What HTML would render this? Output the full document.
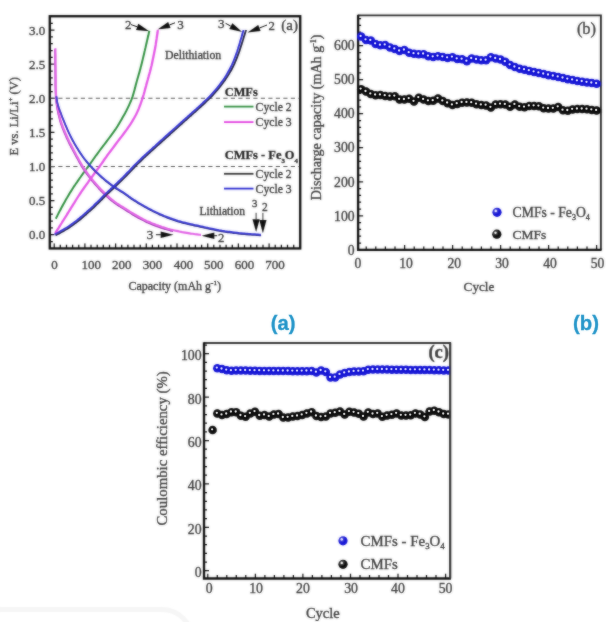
<!DOCTYPE html>
<html><head><meta charset="utf-8"><title>Figure</title>
<style>
html,body{margin:0;padding:0;background:#fff;}
body{width:613px;height:622px;overflow:hidden;position:relative;}
svg{position:absolute;left:0;top:0;display:block;}
svg text{stroke:#3c3c3c;stroke-width:0.35px;}
svg text.bl{stroke:#1e93c8;stroke-width:0.3px;}
</style></head><body>
<svg width="613" height="622" viewBox="0 0 613 622">
<rect width="613" height="622" fill="#fff"/>
<defs><filter id="soft" x="0" y="0" width="613" height="622" filterUnits="userSpaceOnUse"><feGaussianBlur in="SourceGraphic" stdDeviation="0.85" result="b"/><feComposite in="SourceGraphic" in2="b" operator="arithmetic" k1="0" k2="0.5" k3="0.5" k4="0"/></filter><filter id="soft2" x="0" y="0" width="613" height="622" filterUnits="userSpaceOnUse"><feGaussianBlur in="SourceGraphic" stdDeviation="0.8" result="b"/><feComposite in="SourceGraphic" in2="b" operator="arithmetic" k1="0" k2="0.75" k3="0.25" k4="0"/></filter></defs>
<g font-family="'Liberation Serif', 'DejaVu Serif', serif" font-size="12.5" fill="#3c3c3c" filter="url(#soft)">
<g id="pa">
<rect x="49.8" y="16.2" width="250.4" height="232.2" fill="none" stroke="#0c0c0c" stroke-width="2.3"/>
<path d="M49.8,241.5h3.0M49.8,234.7h4.6M49.8,227.9h3.0M49.8,221.1h3.0M49.8,214.2h3.0M49.8,207.4h3.0M49.8,200.6h4.6M49.8,193.8h3.0M49.8,187.0h3.0M49.8,180.1h3.0M49.8,173.3h3.0M49.8,166.5h4.6M49.8,159.7h3.0M49.8,152.9h3.0M49.8,146.0h3.0M49.8,139.2h3.0M49.8,132.4h4.6M49.8,125.6h3.0M49.8,118.8h3.0M49.8,111.9h3.0M49.8,105.1h3.0M49.8,98.3h4.6M49.8,91.5h3.0M49.8,84.7h3.0M49.8,77.8h3.0M49.8,71.0h3.0M49.8,64.2h4.6M49.8,57.4h3.0M49.8,50.6h3.0M49.8,43.7h3.0M49.8,36.9h3.0M49.8,30.1h4.6M49.8,23.3h3.0M54.2,248.4v-5.0M60.3,248.4v-3.6M66.5,248.4v-3.6M72.6,248.4v-3.6M78.8,248.4v-3.6M84.9,248.4v-5.0M91.0,248.4v-3.6M97.2,248.4v-3.6M103.3,248.4v-3.6M109.5,248.4v-3.6M115.6,248.4v-5.0M121.7,248.4v-3.6M127.9,248.4v-3.6M134.0,248.4v-3.6M140.2,248.4v-3.6M146.3,248.4v-5.0M152.4,248.4v-3.6M158.6,248.4v-3.6M164.7,248.4v-3.6M170.9,248.4v-3.6M177.0,248.4v-5.0M183.1,248.4v-3.6M189.3,248.4v-3.6M195.4,248.4v-3.6M201.6,248.4v-3.6M207.7,248.4v-5.0M213.8,248.4v-3.6M220.0,248.4v-3.6M226.1,248.4v-3.6M232.3,248.4v-3.6M238.4,248.4v-5.0M244.5,248.4v-3.6M250.7,248.4v-3.6M256.8,248.4v-3.6M263.0,248.4v-3.6M269.1,248.4v-5.0M275.2,248.4v-3.6M281.4,248.4v-3.6M287.5,248.4v-3.6M293.7,248.4v-3.6" stroke="#111" stroke-width="1.25" fill="none"/>
<line x1="50.8" y1="98.2" x2="299.2" y2="98.2" stroke="#555" stroke-width="1.15" stroke-dasharray="4.2,3.3"/>
<line x1="50.8" y1="166.5" x2="299.2" y2="166.5" stroke="#555" stroke-width="1.15" stroke-dasharray="4.2,3.3"/>
<path d="M55.8,218.7 C56.0,218.3 56.7,216.9 57.2,216.0 C57.6,215.1 58.1,214.2 58.5,213.3 C59.0,212.4 59.5,211.6 59.9,210.7 C60.4,209.8 60.9,208.9 61.3,208.0 C61.8,207.1 62.3,206.2 62.8,205.4 C63.2,204.5 63.7,203.6 64.2,202.7 C64.7,201.8 65.2,201.0 65.7,200.1 C66.2,199.2 66.7,198.3 67.2,197.5 C67.7,196.6 68.2,195.8 68.7,194.9 C69.2,194.0 69.8,193.2 70.3,192.3 C70.8,191.5 71.3,190.6 71.9,189.8 C72.4,188.9 73.0,188.1 73.5,187.2 C74.1,186.4 74.6,185.6 75.2,184.7 C75.7,183.9 76.3,183.1 76.9,182.3 C77.5,181.4 78.0,180.6 78.6,179.8 C79.2,179.0 79.8,178.2 80.4,177.3 C80.9,176.5 81.5,175.7 82.1,174.9 C82.7,174.1 83.3,173.3 83.9,172.4 C84.5,171.6 85.1,170.8 85.6,170.0 C86.2,169.2 86.8,168.4 87.4,167.6 C88.0,166.8 88.6,165.9 89.2,165.1 C89.8,164.3 90.4,163.5 91.0,162.7 C91.5,161.9 92.1,161.1 92.7,160.2 C93.3,159.4 93.9,158.6 94.4,157.8 C95.0,157.0 95.6,156.2 96.2,155.3 C96.8,154.5 97.4,153.7 98.0,152.9 C98.6,152.1 99.2,151.3 99.7,150.5 C100.3,149.7 100.9,148.9 101.5,148.1 C102.1,147.3 102.8,146.5 103.4,145.7 C104.0,144.9 104.6,144.1 105.2,143.3 C105.8,142.5 106.4,141.7 107.0,140.9 C107.6,140.1 108.2,139.3 108.8,138.5 C109.4,137.7 110.0,136.9 110.6,136.1 C111.2,135.3 111.8,134.5 112.4,133.7 C113.0,132.8 113.6,132.0 114.2,131.2 C114.8,130.4 115.3,129.6 115.9,128.7 C116.4,127.9 117.0,127.0 117.5,126.2 C118.0,125.3 118.5,124.5 119.1,123.6 C119.6,122.8 120.1,121.9 120.6,121.0 C121.1,120.2 121.6,119.3 122.1,118.4 C122.6,117.6 123.1,116.7 123.6,115.8 C124.1,114.9 124.6,114.1 125.1,113.2 C125.5,112.3 126.0,111.4 126.5,110.5 C126.9,109.6 127.4,108.7 127.8,107.8 C128.3,106.9 128.7,106.0 129.1,105.1 C129.5,104.2 129.9,103.3 130.3,102.4 C130.7,101.5 131.1,100.5 131.5,99.6 C131.8,98.7 132.2,97.7 132.5,96.8 C132.8,95.8 133.1,94.9 133.4,93.9 C133.7,93.0 133.9,92.0 134.2,91.0 C134.5,90.1 134.7,89.1 135.0,88.1 C135.2,87.1 135.5,86.2 135.7,85.2 C136.0,84.2 136.3,83.3 136.5,82.3 C136.8,81.3 137.1,80.4 137.3,79.4 C137.6,78.4 137.9,77.5 138.2,76.5 C138.5,75.5 138.7,74.6 139.0,73.6 C139.3,72.7 139.6,71.7 139.8,70.7 C140.1,69.8 140.4,68.8 140.6,67.8 C140.9,66.8 141.1,65.9 141.4,64.9 C141.6,63.9 141.9,63.0 142.1,62.0 C142.3,61.0 142.6,60.0 142.8,59.1 C143.0,58.1 143.3,57.1 143.5,56.1 C143.7,55.1 144.0,54.2 144.2,53.2 C144.4,52.2 144.6,51.2 144.9,50.3 C145.1,49.3 145.3,48.3 145.6,47.3 C145.8,46.3 146.0,45.4 146.2,44.4 C146.5,43.4 146.7,42.4 146.9,41.5 C147.1,40.5 147.4,39.5 147.6,38.5 C147.8,37.5 148.0,36.6 148.3,35.6 C148.5,34.6 148.8,33.5 148.9,32.7 C149.1,31.8 149.3,31.0 149.4,30.7" fill="none" stroke="#2f8f3f" stroke-width="2.0" stroke-linecap="butt" stroke-linejoin="round"/>
<path d="M55.1,49.3 C55.1,49.8 55.1,51.3 55.1,52.3 C55.1,53.3 55.1,54.3 55.2,55.3 C55.2,56.3 55.2,57.3 55.2,58.3 C55.2,59.3 55.2,60.3 55.2,61.3 C55.2,62.3 55.2,63.3 55.2,64.3 C55.2,65.3 55.3,66.3 55.3,67.3 C55.3,68.3 55.3,69.3 55.3,70.3 C55.3,71.3 55.3,72.3 55.3,73.3 C55.3,74.3 55.3,75.3 55.4,76.3 C55.4,77.4 55.4,78.4 55.4,79.4 C55.4,80.4 55.4,81.4 55.4,82.4 C55.4,83.4 55.4,84.4 55.4,85.4 C55.5,86.4 55.5,87.4 55.5,88.4 C55.5,89.4 55.5,90.4 55.6,91.4 C55.6,92.4 55.6,93.4 55.7,94.4 C55.7,95.4 55.8,96.4 55.8,97.4 C55.9,98.4 56.0,99.4 56.1,100.4 C56.2,101.4 56.3,102.4 56.5,103.3 C56.6,104.3 56.7,105.3 56.9,106.3 C57.1,107.3 57.2,108.3 57.4,109.3 C57.6,110.3 57.8,111.2 58.0,112.2 C58.2,113.2 58.4,114.2 58.6,115.1 C58.9,116.1 59.1,117.1 59.4,118.1 C59.6,119.0 59.9,120.0 60.1,121.0 C60.4,121.9 60.7,122.9 61.0,123.8 C61.3,124.8 61.7,125.7 62.0,126.7 C62.4,127.6 62.7,128.5 63.1,129.5 C63.5,130.4 63.8,131.3 64.2,132.2 C64.6,133.2 65.0,134.1 65.4,135.0 C65.8,135.9 66.2,136.8 66.6,137.8 C67.0,138.7 67.5,139.6 67.9,140.5 C68.3,141.4 68.8,142.3 69.2,143.2 C69.7,144.1 70.1,145.0 70.6,145.8 C71.0,146.7 71.5,147.6 72.0,148.5 C72.4,149.4 72.9,150.3 73.4,151.2 C73.8,152.1 74.3,152.9 74.8,153.8 C75.3,154.7 75.7,155.6 76.2,156.5 C76.7,157.3 77.2,158.2 77.7,159.1 C78.2,160.0 78.6,160.8 79.1,161.7 C79.6,162.6 80.1,163.5 80.6,164.3 C81.1,165.2 81.6,166.1 82.1,166.9 C82.7,167.8 83.2,168.6 83.7,169.5 C84.3,170.3 84.9,171.1 85.4,171.9 C86.0,172.8 86.6,173.6 87.2,174.4 C87.8,175.2 88.4,176.0 89.0,176.8 C89.6,177.6 90.2,178.4 90.8,179.1 C91.5,179.9 92.1,180.7 92.7,181.5 C93.4,182.3 94.0,183.0 94.7,183.8 C95.3,184.5 96.0,185.3 96.6,186.0 C97.3,186.8 98.0,187.5 98.6,188.3 C99.3,189.0 100.0,189.7 100.7,190.5 C101.4,191.2 102.1,191.9 102.8,192.6 C103.5,193.3 104.2,194.0 105.0,194.7 C105.7,195.4 106.4,196.1 107.2,196.7 C107.9,197.4 108.7,198.1 109.4,198.7 C110.2,199.4 110.9,200.0 111.7,200.7 C112.5,201.3 113.2,201.9 114.0,202.5 C114.8,203.1 115.6,203.7 116.5,204.3 C117.3,204.8 118.1,205.4 119.0,205.9 C119.8,206.4 120.7,206.9 121.5,207.5 C122.4,208.0 123.2,208.5 124.1,209.1 C124.9,209.6 125.8,210.1 126.6,210.7 C127.5,211.2 128.3,211.8 129.1,212.3 C130.0,212.8 130.8,213.4 131.7,213.9 C132.5,214.4 133.4,214.9 134.3,215.4 C135.1,215.9 136.0,216.4 136.9,216.9 C137.7,217.4 138.6,217.9 139.5,218.4 C140.4,218.9 141.3,219.4 142.1,219.8 C143.0,220.3 143.9,220.8 144.8,221.2 C145.7,221.6 146.6,222.1 147.5,222.5 C148.4,222.9 149.4,223.3 150.3,223.6 C151.2,224.0 152.1,224.4 153.1,224.8 C154.0,225.1 154.9,225.5 155.9,225.9 C156.8,226.2 157.7,226.6 158.7,226.9 C159.6,227.2 160.6,227.5 161.5,227.9 C162.5,228.2 163.4,228.5 164.4,228.8 C165.4,229.1 166.3,229.4 167.3,229.7 C168.2,229.9 169.2,230.2 170.2,230.5 C171.1,230.7 172.6,231.1 173.1,231.2" fill="none" stroke="#9a3ab0" stroke-width="1.8" stroke-linecap="butt" stroke-linejoin="round"/>
<path d="M55.4,48.3 C55.4,48.8 55.4,50.3 55.4,51.3 C55.4,52.3 55.4,53.3 55.5,54.3 C55.5,55.3 55.5,56.3 55.5,57.3 C55.5,58.3 55.5,59.3 55.5,60.3 C55.5,61.3 55.5,62.3 55.5,63.3 C55.5,64.3 55.6,65.3 55.6,66.3 C55.6,67.3 55.6,68.3 55.6,69.3 C55.6,70.3 55.6,71.3 55.6,72.3 C55.6,73.3 55.6,74.3 55.7,75.3 C55.7,76.4 55.7,77.4 55.7,78.4 C55.7,79.4 55.7,80.4 55.7,81.4 C55.7,82.4 55.7,83.4 55.7,84.4 C55.8,85.4 55.8,86.4 55.8,87.4 C55.8,88.4 55.8,89.4 55.9,90.4 C55.9,91.4 55.9,92.4 56.0,93.4 C56.0,94.4 56.1,95.4 56.1,96.4 C56.2,97.4 56.3,98.4 56.4,99.4 C56.5,100.4 56.6,101.4 56.8,102.3 C56.9,103.3 57.0,104.3 57.2,105.3 C57.4,106.3 57.5,107.3 57.7,108.3 C57.9,109.3 58.1,110.2 58.3,111.2 C58.5,112.2 58.7,113.2 58.9,114.1 C59.2,115.1 59.4,116.1 59.7,117.1 C59.9,118.0 60.2,119.0 60.4,120.0 C60.7,120.9 61.0,121.9 61.3,122.8 C61.6,123.8 62.0,124.7 62.3,125.7 C62.7,126.6 63.0,127.5 63.4,128.5 C63.8,129.4 64.1,130.3 64.5,131.2 C64.9,132.2 65.3,133.1 65.7,134.0 C66.1,134.9 66.5,135.8 66.9,136.8 C67.3,137.7 67.8,138.6 68.2,139.5 C68.6,140.4 69.1,141.3 69.5,142.2 C70.0,143.1 70.4,144.0 70.9,144.8 C71.3,145.7 71.8,146.6 72.3,147.5 C72.7,148.4 73.2,149.3 73.7,150.2 C74.1,151.1 74.6,151.9 75.1,152.8 C75.6,153.7 76.0,154.6 76.5,155.5 C77.0,156.3 77.5,157.2 78.0,158.1 C78.5,159.0 78.9,159.8 79.4,160.7 C79.9,161.6 80.4,162.5 80.9,163.3 C81.4,164.2 81.9,165.1 82.4,165.9 C83.0,166.8 83.5,167.6 84.0,168.5 C84.6,169.3 85.2,170.1 85.7,170.9 C86.3,171.8 86.9,172.6 87.5,173.4 C88.1,174.2 88.7,175.0 89.3,175.8 C89.9,176.6 90.5,177.4 91.1,178.1 C91.8,178.9 92.4,179.7 93.0,180.5 C93.7,181.3 94.3,182.0 95.0,182.8 C95.6,183.5 96.3,184.3 96.9,185.0 C97.6,185.8 98.3,186.5 98.9,187.3 C99.6,188.0 100.3,188.7 101.0,189.5 C101.7,190.2 102.4,190.9 103.1,191.6 C103.8,192.3 104.5,193.0 105.3,193.7 C106.0,194.4 106.7,195.1 107.5,195.7 C108.2,196.4 109.0,197.1 109.7,197.7 C110.5,198.4 111.2,199.0 112.0,199.7 C112.8,200.3 113.5,200.9 114.3,201.5 C115.1,202.1 115.9,202.7 116.8,203.3 C117.6,203.8 118.4,204.4 119.3,204.9 C120.1,205.4 121.0,205.9 121.8,206.5 C122.7,207.0 123.5,207.5 124.4,208.1 C125.2,208.6 126.1,209.1 126.9,209.7 C127.8,210.2 128.6,210.8 129.4,211.3 C130.3,211.8 131.1,212.4 132.0,212.9 C132.8,213.4 133.7,213.9 134.6,214.4 C135.4,214.9 136.3,215.4 137.2,215.9 C138.0,216.4 138.9,216.9 139.8,217.4 C140.7,217.9 141.6,218.4 142.4,218.8 C143.3,219.3 144.2,219.8 145.1,220.2 C146.0,220.6 146.9,221.1 147.8,221.5 C148.7,221.9 149.7,222.3 150.6,222.6 C151.5,223.0 152.4,223.4 153.4,223.8 C154.3,224.1 155.2,224.5 156.2,224.9 C157.1,225.2 158.0,225.6 159.0,225.9 C159.9,226.2 160.9,226.5 161.8,226.9 C162.8,227.2 163.7,227.5 164.7,227.8 C165.7,228.1 166.6,228.4 167.6,228.7 C168.5,228.9 169.5,229.2 170.5,229.5 C171.4,229.7 172.4,230.0 173.4,230.2 C174.3,230.5 175.3,230.7 176.3,230.9 C177.3,231.1 178.3,231.3 179.2,231.5 C180.2,231.7 181.2,231.9 182.2,232.1 C183.2,232.2 184.2,232.4 185.1,232.6 C186.1,232.8 187.1,233.0 188.1,233.1 C189.1,233.3 190.1,233.4 191.1,233.6 C192.1,233.7 193.1,233.9 194.0,234.0 C195.0,234.2 196.0,234.3 197.0,234.4 C198.0,234.5 199.3,234.7 200.0,234.8 C200.7,234.9 200.8,234.9 201.0,234.9" fill="none" stroke="#e262e6" stroke-width="2.1" stroke-linecap="butt" stroke-linejoin="round"/>
<path d="M55.2,233.1 C55.5,232.7 56.3,231.4 56.8,230.6 C57.4,229.7 57.9,228.9 58.5,228.1 C59.0,227.2 59.5,226.4 60.1,225.5 C60.6,224.7 61.2,223.8 61.7,223.0 C62.2,222.1 62.8,221.3 63.3,220.4 C63.8,219.6 64.3,218.7 64.9,217.9 C65.4,217.0 65.9,216.2 66.5,215.3 C67.0,214.5 67.5,213.6 68.1,212.8 C68.6,211.9 69.1,211.1 69.6,210.2 C70.2,209.4 70.7,208.5 71.2,207.7 C71.8,206.8 72.3,206.0 72.8,205.1 C73.3,204.3 73.9,203.4 74.4,202.6 C74.9,201.7 75.5,200.9 76.0,200.0 C76.5,199.2 77.1,198.3 77.6,197.5 C78.1,196.7 78.7,195.8 79.2,195.0 C79.8,194.1 80.3,193.3 80.9,192.5 C81.4,191.6 82.0,190.8 82.6,190.0 C83.1,189.2 83.7,188.3 84.3,187.5 C84.9,186.7 85.5,185.9 86.0,185.1 C86.6,184.3 87.2,183.5 87.8,182.7 C88.4,181.8 89.0,181.0 89.5,180.2 C90.1,179.4 90.7,178.6 91.3,177.8 C91.9,177.0 92.5,176.2 93.1,175.3 C93.7,174.5 94.3,173.7 94.8,172.9 C95.4,172.1 96.0,171.3 96.6,170.5 C97.2,169.7 97.8,168.9 98.4,168.1 C99.0,167.3 99.6,166.5 100.1,165.6 C100.7,164.8 101.3,164.0 101.9,163.2 C102.4,162.4 103.0,161.5 103.6,160.7 C104.1,159.9 104.7,159.1 105.3,158.2 C105.9,157.4 106.5,156.6 107.0,155.8 C107.6,155.0 108.2,154.2 108.8,153.4 C109.4,152.6 110.0,151.8 110.6,151.0 C111.2,150.2 111.8,149.4 112.4,148.6 C113.0,147.8 113.6,147.0 114.2,146.2 C114.8,145.4 115.4,144.6 116.0,143.8 C116.6,143.0 117.2,142.2 117.8,141.4 C118.4,140.6 119.0,139.8 119.6,139.0 C120.2,138.2 120.9,137.4 121.5,136.6 C122.1,135.8 122.7,135.0 123.3,134.2 C123.9,133.4 124.5,132.6 125.1,131.8 C125.7,131.0 126.3,130.2 126.9,129.4 C127.5,128.6 128.0,127.7 128.6,126.9 C129.2,126.1 129.7,125.3 130.3,124.4 C130.8,123.6 131.4,122.7 131.9,121.9 C132.4,121.0 132.9,120.2 133.4,119.3 C133.9,118.5 134.4,117.6 134.9,116.7 C135.4,115.9 135.9,115.0 136.3,114.1 C136.8,113.2 137.2,112.3 137.6,111.4 C138.0,110.5 138.4,109.5 138.8,108.6 C139.1,107.7 139.5,106.8 139.9,105.8 C140.2,104.9 140.6,104.0 140.9,103.0 C141.2,102.1 141.6,101.1 141.9,100.2 C142.2,99.2 142.5,98.3 142.8,97.3 C143.1,96.4 143.4,95.4 143.7,94.5 C144.0,93.5 144.2,92.5 144.5,91.6 C144.8,90.6 145.0,89.6 145.3,88.7 C145.5,87.7 145.8,86.7 146.1,85.8 C146.3,84.8 146.6,83.8 146.9,82.9 C147.1,81.9 147.4,80.9 147.7,80.0 C147.9,79.0 148.2,78.0 148.5,77.1 C148.7,76.1 149.0,75.1 149.3,74.2 C149.6,73.2 149.8,72.3 150.1,71.3 C150.3,70.3 150.6,69.4 150.8,68.4 C151.1,67.4 151.3,66.4 151.6,65.5 C151.8,64.5 152.0,63.5 152.2,62.5 C152.4,61.6 152.6,60.6 152.8,59.6 C153.0,58.6 153.2,57.6 153.4,56.7 C153.6,55.7 153.8,54.7 154.0,53.7 C154.2,52.7 154.4,51.7 154.6,50.8 C154.8,49.8 155.0,48.8 155.2,47.8 C155.3,46.8 155.5,45.8 155.7,44.9 C155.8,43.9 156.0,42.9 156.1,41.9 C156.3,40.9 156.4,39.9 156.6,38.9 C156.7,37.9 156.9,36.9 157.0,35.9 C157.2,35.0 157.3,34.0 157.5,33.0 C157.6,32.0 157.8,30.5 157.9,30.0" fill="none" stroke="#e455e6" stroke-width="2.3" stroke-linecap="butt" stroke-linejoin="round"/>
<path d="M55.5,235.3 C55.9,235.1 57.3,234.4 58.2,233.9 C59.1,233.5 59.9,233.0 60.8,232.5 C61.7,232.0 62.6,231.5 63.5,231.1 C64.3,230.6 65.2,230.0 66.0,229.5 C66.9,229.0 67.8,228.5 68.6,227.9 C69.4,227.4 70.3,226.8 71.1,226.3 C71.9,225.7 72.7,225.1 73.6,224.5 C74.4,223.9 75.2,223.3 76.0,222.7 C76.8,222.1 77.5,221.5 78.3,220.9 C79.1,220.3 79.9,219.6 80.7,219.0 C81.4,218.3 82.2,217.7 83.0,217.0 C83.7,216.4 84.5,215.7 85.2,215.1 C86.0,214.4 86.7,213.7 87.5,213.1 C88.2,212.4 89.0,211.7 89.7,211.1 C90.5,210.4 91.2,209.7 92.0,209.0 C92.7,208.4 93.4,207.7 94.2,207.0 C94.9,206.3 95.6,205.6 96.3,204.9 C97.0,204.2 97.8,203.5 98.5,202.8 C99.2,202.1 99.9,201.4 100.6,200.7 C101.3,200.0 102.0,199.3 102.7,198.5 C103.4,197.8 104.2,197.1 104.9,196.4 C105.6,195.7 106.3,195.0 107.0,194.3 C107.7,193.6 108.5,193.0 109.2,192.3 C109.9,191.6 110.7,190.9 111.4,190.2 C112.1,189.5 112.9,188.9 113.6,188.2 C114.3,187.5 115.1,186.8 115.8,186.1 C116.5,185.4 117.2,184.7 117.9,184.0 C118.7,183.3 119.4,182.6 120.1,181.9 C120.8,181.2 121.5,180.5 122.2,179.8 C123.0,179.1 123.7,178.4 124.4,177.7 C125.1,177.0 125.8,176.3 126.5,175.6 C127.2,174.8 127.9,174.1 128.6,173.4 C129.3,172.7 130.0,172.0 130.7,171.2 C131.4,170.5 132.1,169.8 132.7,169.0 C133.4,168.3 134.1,167.6 134.8,166.8 C135.5,166.1 136.2,165.4 136.9,164.7 C137.6,164.0 138.3,163.3 139.1,162.6 C139.8,161.9 140.5,161.2 141.2,160.5 C142.0,159.8 142.7,159.1 143.4,158.4 C144.1,157.7 144.9,157.1 145.6,156.4 C146.3,155.7 147.1,155.0 147.8,154.3 C148.5,153.6 149.3,153.0 150.0,152.3 C150.8,151.6 151.5,150.9 152.3,150.3 C153.0,149.6 153.7,148.9 154.5,148.2 C155.2,147.6 156.0,146.9 156.7,146.2 C157.5,145.6 158.2,144.9 159.0,144.2 C159.7,143.5 160.4,142.9 161.2,142.2 C161.9,141.5 162.7,140.9 163.4,140.2 C164.2,139.5 164.9,138.8 165.7,138.2 C166.4,137.5 167.2,136.8 167.9,136.2 C168.7,135.5 169.4,134.8 170.1,134.2 C170.9,133.5 171.6,132.8 172.4,132.1 C173.1,131.5 173.9,130.8 174.6,130.1 C175.4,129.5 176.1,128.8 176.9,128.1 C177.6,127.4 178.3,126.8 179.1,126.1 C179.8,125.4 180.6,124.8 181.3,124.1 C182.1,123.4 182.8,122.7 183.6,122.1 C184.3,121.4 185.1,120.7 185.8,120.1 C186.6,119.4 187.3,118.7 188.1,118.1 C188.8,117.4 189.6,116.7 190.3,116.1 C191.1,115.4 191.8,114.7 192.6,114.1 C193.3,113.4 194.1,112.7 194.8,112.1 C195.6,111.4 196.3,110.7 197.1,110.1 C197.8,109.4 198.5,108.7 199.3,108.1 C200.0,107.4 200.8,106.7 201.5,106.0 C202.2,105.3 203.0,104.7 203.7,104.0 C204.4,103.3 205.2,102.6 205.9,101.9 C206.6,101.2 207.3,100.5 208.1,99.8 C208.8,99.1 209.5,98.4 210.3,97.7 C211.0,96.9 211.7,96.2 212.4,95.5 C213.1,94.7 213.8,94.0 214.5,93.2 C215.2,92.5 215.8,91.7 216.5,90.9 C217.2,90.2 217.8,89.4 218.5,88.6 C219.1,87.8 219.8,87.0 220.4,86.2 C221.0,85.4 221.7,84.6 222.3,83.8 C222.9,83.0 223.5,82.2 224.1,81.3 C224.7,80.5 225.3,79.7 225.8,78.8 C226.4,78.0 227.0,77.1 227.5,76.3 C228.1,75.4 228.6,74.5 229.1,73.7 C229.6,72.8 230.2,71.9 230.7,71.0 C231.2,70.1 231.7,69.2 232.1,68.3 C232.6,67.4 233.1,66.5 233.5,65.6 C234.0,64.7 234.4,63.8 234.8,62.8 C235.2,61.9 235.6,60.9 236.0,60.0 C236.4,59.1 236.8,58.1 237.2,57.2 C237.5,56.2 237.9,55.3 238.2,54.3 C238.6,53.4 238.9,52.4 239.3,51.4 C239.6,50.5 239.9,49.5 240.2,48.5 C240.6,47.6 240.9,46.6 241.2,45.6 C241.5,44.6 241.8,43.7 242.1,42.7 C242.4,41.7 242.7,40.7 243.0,39.8 C243.3,38.8 243.6,37.8 243.9,36.8 C244.2,35.9 244.5,34.9 244.8,33.9 C245.1,32.9 245.5,31.6 245.7,31.0 C245.9,30.3 246.0,30.2 246.0,30.0" fill="none" stroke="#2a2a3a" stroke-width="1.9" stroke-linecap="butt" stroke-linejoin="round"/>
<path d="M56.5,96.9 C56.6,97.4 56.8,98.9 56.9,99.9 C57.1,100.9 57.2,101.8 57.4,102.8 C57.6,103.8 57.9,104.8 58.1,105.7 C58.4,106.7 58.7,107.6 59.0,108.6 C59.3,109.5 59.7,110.5 60.0,111.4 C60.4,112.3 60.7,113.3 61.1,114.2 C61.4,115.1 61.8,116.1 62.1,117.0 C62.5,117.9 62.9,118.9 63.2,119.8 C63.6,120.7 64.0,121.7 64.4,122.6 C64.7,123.5 65.1,124.5 65.5,125.4 C65.9,126.3 66.3,127.2 66.7,128.1 C67.1,129.1 67.5,130.0 67.9,130.9 C68.3,131.8 68.7,132.7 69.1,133.6 C69.6,134.5 70.0,135.4 70.4,136.3 C70.9,137.2 71.3,138.1 71.8,139.0 C72.3,139.9 72.7,140.8 73.2,141.6 C73.7,142.5 74.2,143.4 74.7,144.3 C75.2,145.1 75.7,146.0 76.2,146.9 C76.7,147.7 77.2,148.6 77.8,149.4 C78.3,150.3 78.8,151.1 79.4,152.0 C79.9,152.8 80.5,153.6 81.0,154.5 C81.6,155.3 82.2,156.1 82.7,156.9 C83.3,157.7 83.9,158.6 84.5,159.4 C85.1,160.2 85.7,160.9 86.4,161.7 C87.0,162.5 87.6,163.2 88.3,164.0 C88.9,164.8 89.6,165.5 90.3,166.2 C91.0,167.0 91.6,167.7 92.3,168.5 C93.0,169.2 93.7,169.9 94.4,170.6 C95.1,171.3 95.8,172.0 96.5,172.7 C97.2,173.4 98.0,174.1 98.7,174.8 C99.4,175.5 100.1,176.2 100.9,176.9 C101.6,177.5 102.4,178.2 103.1,178.8 C103.9,179.5 104.7,180.1 105.4,180.8 C106.2,181.4 107.0,182.0 107.8,182.7 C108.6,183.3 109.4,183.9 110.2,184.5 C110.9,185.1 111.7,185.7 112.6,186.3 C113.4,186.9 114.2,187.4 115.0,188.0 C115.9,188.5 116.7,189.0 117.6,189.6 C118.4,190.1 119.3,190.6 120.1,191.1 C121.0,191.7 121.8,192.2 122.6,192.7 C123.5,193.3 124.3,193.9 125.1,194.4 C125.9,195.0 126.7,195.6 127.6,196.2 C128.4,196.8 129.2,197.3 130.0,197.9 C130.8,198.5 131.7,199.0 132.5,199.6 C133.3,200.2 134.2,200.7 135.0,201.2 C135.8,201.8 136.7,202.3 137.5,202.8 C138.4,203.4 139.3,203.9 140.1,204.4 C141.0,204.9 141.8,205.4 142.7,205.9 C143.6,206.4 144.4,206.9 145.3,207.4 C146.2,207.9 147.1,208.4 147.9,208.8 C148.8,209.3 149.7,209.8 150.6,210.2 C151.5,210.7 152.4,211.1 153.3,211.6 C154.2,212.0 155.1,212.4 156.0,212.9 C156.9,213.3 157.8,213.7 158.7,214.2 C159.6,214.6 160.5,215.0 161.5,215.4 C162.4,215.8 163.3,216.2 164.2,216.6 C165.1,216.9 166.1,217.3 167.0,217.7 C167.9,218.1 168.9,218.4 169.8,218.8 C170.7,219.1 171.7,219.5 172.6,219.8 C173.6,220.1 174.5,220.5 175.5,220.8 C176.4,221.1 177.4,221.4 178.3,221.7 C179.3,221.9 180.2,222.2 181.2,222.5 C182.2,222.8 183.1,223.0 184.1,223.3 C185.1,223.6 186.0,223.8 187.0,224.0 C188.0,224.3 189.0,224.5 189.9,224.7 C190.9,224.9 191.9,225.1 192.9,225.3 C193.9,225.5 194.8,225.8 195.8,226.0 C196.8,226.2 197.8,226.4 198.7,226.6 C199.7,226.8 200.7,227.1 201.7,227.3 C202.7,227.5 203.6,227.7 204.6,227.9 C205.6,228.2 206.6,228.4 207.5,228.6 C208.5,228.8 209.5,229.0 210.5,229.2 C211.5,229.4 212.4,229.6 213.4,229.8 C214.4,230.0 215.4,230.2 216.4,230.4 C217.4,230.6 218.3,230.8 219.3,231.0 C220.3,231.1 221.3,231.3 222.3,231.5 C223.3,231.6 224.3,231.8 225.2,232.0 C226.2,232.1 227.2,232.3 228.2,232.4 C229.2,232.5 230.2,232.7 231.2,232.8 C232.2,232.9 233.2,233.1 234.2,233.2 C235.2,233.3 236.2,233.4 237.2,233.5 C238.1,233.7 239.1,233.8 240.1,233.9 C241.1,234.0 242.1,234.1 243.1,234.2 C244.1,234.3 245.1,234.3 246.1,234.4 C247.1,234.5 248.1,234.6 249.1,234.7 C250.1,234.8 251.1,234.8 252.1,234.9 C253.1,235.0 254.1,235.0 255.1,235.1 C256.1,235.2 257.1,235.2 258.1,235.3 C259.1,235.4 260.6,235.5 261.1,235.5" fill="none" stroke="#2a2a80" stroke-width="1.5" stroke-linecap="butt" stroke-linejoin="round"/>
<path d="M54.5,234.4 C54.9,234.2 56.3,233.5 57.2,233.0 C58.1,232.6 58.9,232.1 59.8,231.6 C60.7,231.1 61.6,230.6 62.5,230.2 C63.3,229.7 64.2,229.1 65.0,228.6 C65.9,228.1 66.8,227.6 67.6,227.0 C68.4,226.5 69.3,225.9 70.1,225.4 C70.9,224.8 71.7,224.2 72.6,223.6 C73.4,223.0 74.2,222.4 75.0,221.8 C75.8,221.2 76.5,220.6 77.3,220.0 C78.1,219.4 78.9,218.7 79.7,218.1 C80.4,217.4 81.2,216.8 82.0,216.1 C82.7,215.5 83.5,214.8 84.2,214.2 C85.0,213.5 85.7,212.8 86.5,212.2 C87.2,211.5 88.0,210.8 88.7,210.2 C89.5,209.5 90.2,208.8 91.0,208.1 C91.7,207.5 92.4,206.8 93.2,206.1 C93.9,205.4 94.6,204.7 95.3,204.0 C96.0,203.3 96.8,202.6 97.5,201.9 C98.2,201.2 98.9,200.5 99.6,199.8 C100.3,199.1 101.0,198.4 101.7,197.6 C102.4,196.9 103.2,196.2 103.9,195.5 C104.6,194.8 105.3,194.1 106.0,193.4 C106.7,192.7 107.5,192.1 108.2,191.4 C108.9,190.7 109.7,190.0 110.4,189.3 C111.1,188.6 111.9,188.0 112.6,187.3 C113.3,186.6 114.1,185.9 114.8,185.2 C115.5,184.5 116.2,183.8 116.9,183.1 C117.7,182.4 118.4,181.7 119.1,181.0 C119.8,180.3 120.5,179.6 121.2,178.9 C122.0,178.2 122.7,177.5 123.4,176.8 C124.1,176.1 124.8,175.4 125.5,174.7 C126.2,173.9 126.9,173.2 127.6,172.5 C128.3,171.8 129.0,171.1 129.7,170.3 C130.4,169.6 131.1,168.9 131.7,168.1 C132.4,167.4 133.1,166.7 133.8,165.9 C134.5,165.2 135.2,164.5 135.9,163.8 C136.6,163.1 137.3,162.4 138.1,161.7 C138.8,161.0 139.5,160.3 140.2,159.6 C141.0,158.9 141.7,158.2 142.4,157.5 C143.1,156.8 143.9,156.2 144.6,155.5 C145.3,154.8 146.1,154.1 146.8,153.4 C147.5,152.7 148.3,152.1 149.0,151.4 C149.8,150.7 150.5,150.0 151.3,149.4 C152.0,148.7 152.7,148.0 153.5,147.3 C154.2,146.7 155.0,146.0 155.7,145.3 C156.5,144.7 157.2,144.0 158.0,143.3 C158.7,142.6 159.4,142.0 160.2,141.3 C160.9,140.6 161.7,140.0 162.4,139.3 C163.2,138.6 163.9,137.9 164.7,137.3 C165.4,136.6 166.2,135.9 166.9,135.3 C167.7,134.6 168.4,133.9 169.1,133.3 C169.9,132.6 170.6,131.9 171.4,131.2 C172.1,130.6 172.9,129.9 173.6,129.2 C174.4,128.6 175.1,127.9 175.9,127.2 C176.6,126.5 177.3,125.9 178.1,125.2 C178.8,124.5 179.6,123.9 180.3,123.2 C181.1,122.5 181.8,121.8 182.6,121.2 C183.3,120.5 184.1,119.8 184.8,119.2 C185.6,118.5 186.3,117.8 187.1,117.2 C187.8,116.5 188.6,115.8 189.3,115.2 C190.1,114.5 190.8,113.8 191.6,113.2 C192.3,112.5 193.1,111.8 193.8,111.2 C194.6,110.5 195.3,109.8 196.1,109.2 C196.8,108.5 197.5,107.8 198.3,107.2 C199.0,106.5 199.8,105.8 200.5,105.1 C201.2,104.4 202.0,103.8 202.7,103.1 C203.4,102.4 204.2,101.7 204.9,101.0 C205.6,100.3 206.3,99.6 207.1,98.9 C207.8,98.2 208.5,97.5 209.2,96.8 C209.9,96.1 210.6,95.4 211.3,94.6 C212.0,93.9 212.7,93.2 213.3,92.4 C214.0,91.7 214.7,90.9 215.3,90.2 C216.0,89.4 216.6,88.6 217.2,87.9 C217.9,87.1 218.5,86.3 219.1,85.5 C219.7,84.7 220.3,83.9 220.9,83.1 C221.5,82.3 222.1,81.5 222.7,80.7 C223.3,79.9 223.8,79.0 224.4,78.2 C224.9,77.4 225.5,76.5 226.0,75.7 C226.5,74.8 227.0,74.0 227.5,73.1 C228.0,72.2 228.5,71.4 229.0,70.5 C229.5,69.6 230.0,68.7 230.4,67.8 C230.9,66.9 231.3,66.1 231.8,65.1 C232.2,64.2 232.6,63.3 233.0,62.4 C233.4,61.5 233.8,60.6 234.1,59.6 C234.5,58.7 234.9,57.8 235.2,56.8 C235.6,55.9 235.9,54.9 236.3,54.0 C236.6,53.1 236.9,52.1 237.2,51.2 C237.5,50.2 237.8,49.2 238.1,48.3 C238.4,47.3 238.7,46.4 239.0,45.4 C239.3,44.4 239.6,43.5 239.9,42.5 C240.1,41.6 240.4,40.6 240.7,39.6 C241.0,38.7 241.3,37.7 241.6,36.7 C241.8,35.8 242.1,34.8 242.4,33.9 C242.7,32.9 243.0,31.6 243.2,31.0 C243.4,30.3 243.5,30.2 243.5,30.0" fill="none" stroke="#3636d6" stroke-width="1.9" stroke-linecap="butt" stroke-linejoin="round"/>
<path d="M56.3,96.0 C56.4,96.5 56.6,98.0 56.7,99.0 C56.9,100.0 57.0,100.9 57.2,101.9 C57.4,102.9 57.7,103.9 57.9,104.8 C58.2,105.8 58.5,106.7 58.8,107.7 C59.1,108.6 59.5,109.6 59.8,110.5 C60.2,111.4 60.5,112.4 60.9,113.3 C61.2,114.2 61.6,115.2 61.9,116.1 C62.3,117.0 62.7,118.0 63.0,118.9 C63.4,119.8 63.8,120.8 64.2,121.7 C64.5,122.6 64.9,123.6 65.3,124.5 C65.7,125.4 66.1,126.3 66.5,127.2 C66.9,128.2 67.3,129.1 67.7,130.0 C68.1,130.9 68.5,131.8 68.9,132.7 C69.4,133.6 69.8,134.5 70.2,135.4 C70.7,136.3 71.1,137.2 71.6,138.1 C72.1,139.0 72.5,139.9 73.0,140.7 C73.5,141.6 74.0,142.5 74.5,143.4 C75.0,144.2 75.5,145.1 76.0,146.0 C76.5,146.8 77.0,147.7 77.6,148.5 C78.1,149.4 78.6,150.2 79.2,151.1 C79.7,151.9 80.3,152.7 80.8,153.6 C81.4,154.4 82.0,155.2 82.5,156.0 C83.1,156.8 83.7,157.7 84.3,158.5 C84.9,159.3 85.5,160.0 86.2,160.8 C86.8,161.6 87.4,162.3 88.1,163.1 C88.7,163.9 89.4,164.6 90.1,165.3 C90.8,166.1 91.4,166.8 92.1,167.6 C92.8,168.3 93.5,169.0 94.2,169.7 C94.9,170.4 95.6,171.1 96.3,171.8 C97.0,172.5 97.8,173.2 98.5,173.9 C99.2,174.6 99.9,175.3 100.7,176.0 C101.4,176.6 102.2,177.3 102.9,177.9 C103.7,178.6 104.5,179.2 105.2,179.9 C106.0,180.5 106.8,181.1 107.6,181.8 C108.4,182.4 109.2,183.0 110.0,183.6 C110.7,184.2 111.5,184.8 112.4,185.4 C113.2,186.0 114.0,186.5 114.8,187.1 C115.7,187.6 116.5,188.1 117.4,188.7 C118.2,189.2 119.1,189.7 119.9,190.2 C120.8,190.8 121.6,191.3 122.4,191.8 C123.3,192.4 124.1,193.0 124.9,193.5 C125.7,194.1 126.5,194.7 127.4,195.3 C128.2,195.9 129.0,196.4 129.8,197.0 C130.6,197.6 131.5,198.1 132.3,198.7 C133.1,199.3 134.0,199.8 134.8,200.3 C135.6,200.9 136.5,201.4 137.3,201.9 C138.2,202.5 139.1,203.0 139.9,203.5 C140.8,204.0 141.6,204.5 142.5,205.0 C143.4,205.5 144.2,206.0 145.1,206.5 C146.0,207.0 146.9,207.5 147.7,207.9 C148.6,208.4 149.5,208.9 150.4,209.3 C151.3,209.8 152.2,210.2 153.1,210.7 C154.0,211.1 154.9,211.5 155.8,212.0 C156.7,212.4 157.6,212.8 158.5,213.3 C159.4,213.7 160.3,214.1 161.3,214.5 C162.2,214.9 163.1,215.3 164.0,215.7 C164.9,216.0 165.9,216.4 166.8,216.8 C167.7,217.2 168.7,217.5 169.6,217.9 C170.5,218.2 171.5,218.6 172.4,218.9 C173.4,219.2 174.3,219.6 175.3,219.9 C176.2,220.2 177.2,220.5 178.1,220.8 C179.1,221.0 180.0,221.3 181.0,221.6 C182.0,221.9 182.9,222.1 183.9,222.4 C184.9,222.7 185.8,222.9 186.8,223.1 C187.8,223.4 188.8,223.6 189.7,223.8 C190.7,224.0 191.7,224.2 192.7,224.4 C193.7,224.6 194.6,224.9 195.6,225.1 C196.6,225.3 197.6,225.5 198.5,225.7 C199.5,225.9 200.5,226.2 201.5,226.4 C202.5,226.6 203.4,226.8 204.4,227.0 C205.4,227.3 206.4,227.5 207.3,227.7 C208.3,227.9 209.3,228.1 210.3,228.3 C211.3,228.5 212.2,228.7 213.2,228.9 C214.2,229.1 215.2,229.3 216.2,229.5 C217.2,229.7 218.1,229.9 219.1,230.1 C220.1,230.2 221.1,230.4 222.1,230.6 C223.1,230.7 224.1,230.9 225.0,231.1 C226.0,231.2 227.0,231.4 228.0,231.5 C229.0,231.6 230.0,231.8 231.0,231.9 C232.0,232.0 233.0,232.2 234.0,232.3 C235.0,232.4 236.0,232.5 237.0,232.6 C237.9,232.8 238.9,232.9 239.9,233.0 C240.9,233.1 241.9,233.2 242.9,233.3 C243.9,233.4 244.9,233.4 245.9,233.5 C246.9,233.6 247.9,233.7 248.9,233.8 C249.9,233.9 250.9,233.9 251.9,234.0 C252.9,234.1 253.9,234.1 254.9,234.2 C255.9,234.3 256.9,234.3 257.9,234.4 C258.9,234.5 260.4,234.6 260.9,234.6" fill="none" stroke="#3434d2" stroke-width="1.7" stroke-linecap="butt" stroke-linejoin="round"/>
<line x1="224" y1="106.6" x2="253.5" y2="106.6" stroke="#2f8f3f" stroke-width="1.8"/>
<line x1="224" y1="122.1" x2="253.5" y2="122.1" stroke="#e23fe0" stroke-width="1.8"/>
<line x1="224" y1="173.8" x2="253.5" y2="173.8" stroke="#333" stroke-width="1.8"/>
<line x1="224" y1="188.6" x2="253.5" y2="188.6" stroke="#2a2ad0" stroke-width="1.8"/>
<line x1="131.0" y1="24.6" x2="137.2" y2="26.8" stroke="#111" stroke-width="1.0"/>
<polygon points="149.2,31.2 136.0,29.9 138.3,23.7" fill="#111"/>
<line x1="175.0" y1="22.8" x2="169.3" y2="25.0" stroke="#111" stroke-width="1.0"/>
<polygon points="157.4,29.6 168.2,21.9 170.5,28.1" fill="#111"/>
<line x1="225.5" y1="23.3" x2="230.8" y2="26.1" stroke="#111" stroke-width="1.0"/>
<polygon points="242.2,32.0 229.3,29.0 232.4,23.2" fill="#111"/>
<line x1="267.0" y1="25.0" x2="259.4" y2="28.0" stroke="#111" stroke-width="1.0"/>
<polygon points="247.5,32.6 258.2,24.9 260.6,31.0" fill="#111"/>
<line x1="155.9" y1="234.7" x2="160.7" y2="234.7" stroke="#111" stroke-width="1.0"/>
<polygon points="173.5,234.7 160.7,238.0 160.7,231.4" fill="#111"/>
<line x1="217.2" y1="235.7" x2="214.3" y2="235.7" stroke="#111" stroke-width="1.0"/>
<polygon points="201.5,235.7 214.3,232.4 214.3,239.0" fill="#111"/>
<line x1="256.1" y1="212.8" x2="256.1" y2="219.2" stroke="#111" stroke-width="0.8"/>
<polygon points="256.1,232.0 252.5,219.2 259.7,219.2" fill="#111"/>
<line x1="262.9" y1="212.8" x2="262.9" y2="220.0" stroke="#111" stroke-width="0.8"/>
<polygon points="262.9,233.2 259.3,220.0 266.5,220.0" fill="#111"/>
<text x="45.2" y="239.3" text-anchor="end" font-size="13">0.0</text>
<text x="45.2" y="205.2" text-anchor="end" font-size="13">0.5</text>
<text x="45.2" y="171.1" text-anchor="end" font-size="13">1.0</text>
<text x="45.2" y="137.0" text-anchor="end" font-size="13">1.5</text>
<text x="45.2" y="102.9" text-anchor="end" font-size="13">2.0</text>
<text x="45.2" y="68.8" text-anchor="end" font-size="13">2.5</text>
<text x="45.2" y="34.7" text-anchor="end" font-size="13">3.0</text>
<text x="54.5" y="268.6" text-anchor="middle" font-size="13">0</text>
<text x="91.3" y="268.6" text-anchor="middle" font-size="13">100</text>
<text x="121.8" y="268.6" text-anchor="middle" font-size="13">200</text>
<text x="152.6" y="268.6" text-anchor="middle" font-size="13">300</text>
<text x="183.4" y="268.6" text-anchor="middle" font-size="13">400</text>
<text x="213.8" y="268.6" text-anchor="middle" font-size="13">500</text>
<text x="244.4" y="268.6" text-anchor="middle" font-size="13">600</text>
<text x="275.0" y="268.6" text-anchor="middle" font-size="13">700</text>
<text x="174.7" y="290.0" text-anchor="middle" font-size="12">Capacity (mAh g<tspan dy="-5" font-size="7">-1</tspan><tspan dy="5">)</tspan></text>
<text transform="translate(18,116.3) rotate(-90)" text-anchor="middle" font-size="12.5">E vs. Li/Li<tspan dy="-5" font-size="7">+</tspan><tspan dy="5"> (V)</tspan></text>
<text x="128.2" y="29.2" text-anchor="middle" font-size="13">2</text>
<text x="180.5" y="28.6" text-anchor="middle" font-size="13">3</text>
<text x="221.3" y="28.4" text-anchor="middle" font-size="13">3</text>
<text x="271.6" y="29.6" text-anchor="middle" font-size="12.8">2</text>
<text x="289.7" y="30.0" text-anchor="middle" font-size="15">(a)</text>
<text x="165.0" y="59.4" font-size="11.75">Delithiation</text>
<text x="224.8" y="96.0" font-weight="bold" font-size="12.35" fill="#181818">CMFs</text>
<text x="255.6" y="110.6" font-size="11.7">Cycle 2</text>
<text x="255.6" y="126.1" font-size="11.7">Cycle 3</text>
<text x="224.8" y="158.8" font-weight="bold" font-size="12.45" fill="#181818">CMFs - Fe<tspan dy="4.6" font-size="6.8">3</tspan><tspan dy="-4.6">O</tspan><tspan dy="4.6" font-size="6.8">4</tspan></text>
<text x="255.6" y="177.8" font-size="11.7">Cycle 2</text>
<text x="255.6" y="192.6" font-size="11.7">Cycle 3</text>
<text x="199.6" y="214.9" font-size="11.5">Lithiation</text>
<text x="254.8" y="207.3" text-anchor="middle" font-size="10.8">3</text>
<text x="264.8" y="211.0" text-anchor="middle" font-size="11.5">2</text>
<text x="150.0" y="239.2" text-anchor="middle" font-size="13">3</text>
<text x="221.1" y="242.0" text-anchor="middle" font-size="12.8">2</text>
</g>
<clipPath id="clipb"><rect x="300" y="0" width="305" height="340"/></clipPath>
<g id="pb" clip-path="url(#clipb)">
<path d="M358.1,15.4H600.9V249.8" fill="none" stroke="#2a2a2a" stroke-width="1.9"/>
<path d="M358.1,14.7V249.8H601.6" fill="none" stroke="#0c0c0c" stroke-width="2.3"/>
<path d="M358.1,249.8h5.0M358.1,243.0h3.0M358.1,236.2h3.0M358.1,229.4h3.0M358.1,222.6h3.0M358.1,215.8h5.0M358.1,209.0h3.0M358.1,202.2h3.0M358.1,195.4h3.0M358.1,188.6h3.0M358.1,181.8h5.0M358.1,175.0h3.0M358.1,168.2h3.0M358.1,161.3h3.0M358.1,154.5h3.0M358.1,147.7h5.0M358.1,140.9h3.0M358.1,134.1h3.0M358.1,127.3h3.0M358.1,120.5h3.0M358.1,113.7h5.0M358.1,106.9h3.0M358.1,100.1h3.0M358.1,93.3h3.0M358.1,86.5h3.0M358.1,79.7h5.0M358.1,72.9h3.0M358.1,66.1h3.0M358.1,59.3h3.0M358.1,52.5h3.0M358.1,45.7h5.0M358.1,38.9h3.0M358.1,32.1h3.0M358.1,25.3h3.0M358.1,18.5h3.0M366.2,249.8v-3.4M375.8,249.8v-3.4M385.4,249.8v-3.4M395.0,249.8v-3.4M404.6,249.8v-4.8M414.2,249.8v-3.4M423.8,249.8v-3.4M433.4,249.8v-3.4M443.0,249.8v-3.4M452.6,249.8v-4.8M462.2,249.8v-3.4M471.8,249.8v-3.4M481.4,249.8v-3.4M491.0,249.8v-3.4M500.6,249.8v-4.8M510.2,249.8v-3.4M519.8,249.8v-3.4M529.4,249.8v-3.4M539.0,249.8v-3.4M548.6,249.8v-4.8M558.2,249.8v-3.4M567.8,249.8v-3.4M577.4,249.8v-3.4M587.0,249.8v-3.4M596.6,249.8v-4.8" stroke="#111" stroke-width="1.25" fill="none"/>
<text x="354.6" y="254.5" text-anchor="end" font-size="13.7">0</text>
<text x="354.6" y="220.5" text-anchor="end" font-size="13.7">100</text>
<text x="354.6" y="186.5" text-anchor="end" font-size="13.7">200</text>
<text x="354.6" y="152.4" text-anchor="end" font-size="13.7">300</text>
<text x="354.6" y="118.4" text-anchor="end" font-size="13.7">400</text>
<text x="354.6" y="84.4" text-anchor="end" font-size="13.7">500</text>
<text x="354.6" y="50.4" text-anchor="end" font-size="13.7">600</text>
<text x="358.0" y="268.0" text-anchor="middle" font-size="13.6">0</text>
<text x="406.0" y="268.0" text-anchor="middle" font-size="13.6">10</text>
<text x="454.3" y="268.0" text-anchor="middle" font-size="13.6">20</text>
<text x="502.0" y="268.0" text-anchor="middle" font-size="13.6">30</text>
<text x="550.0" y="268.0" text-anchor="middle" font-size="13.6">40</text>
<text x="597.5" y="268.0" text-anchor="middle" font-size="13.6">50</text>
<text x="479.0" y="291.0" text-anchor="middle" font-size="13.2">Cycle</text>
<text transform="translate(321,117.3) rotate(-90)" text-anchor="middle" font-size="14.1">Discharge capacity (mAh g<tspan dy="-5.5" font-size="8">-1</tspan><tspan dy="5.5">)</tspan></text>
<text x="586.5" y="34.0" text-anchor="middle" font-size="16.5">(b)</text>
<defs>
<radialGradient id="gb" cx="0.42" cy="0.40" r="0.6"><stop offset="0" stop-color="#fff"/><stop offset="0.22" stop-color="#dde"/><stop offset="0.42" stop-color="#1a1ae0"/><stop offset="1" stop-color="#1212c8"/></radialGradient>
<radialGradient id="gk" cx="0.42" cy="0.40" r="0.6"><stop offset="0" stop-color="#fff"/><stop offset="0.22" stop-color="#ddd"/><stop offset="0.42" stop-color="#111"/><stop offset="1" stop-color="#000"/></radialGradient>
</defs>
<circle cx="361.2" cy="89.2" r="4.25" fill="#0a0a0a"/>
<circle cx="366.0" cy="91.6" r="4.25" fill="#0a0a0a"/>
<circle cx="370.8" cy="94.0" r="4.25" fill="#0a0a0a"/>
<circle cx="375.6" cy="95.2" r="4.25" fill="#0a0a0a"/>
<circle cx="380.4" cy="95.0" r="4.25" fill="#0a0a0a"/>
<circle cx="385.2" cy="95.9" r="4.25" fill="#0a0a0a"/>
<circle cx="390.0" cy="96.4" r="4.25" fill="#0a0a0a"/>
<circle cx="394.8" cy="96.2" r="4.25" fill="#0a0a0a"/>
<circle cx="399.6" cy="99.4" r="4.25" fill="#0a0a0a"/>
<circle cx="404.4" cy="99.6" r="4.25" fill="#0a0a0a"/>
<circle cx="409.2" cy="98.8" r="4.25" fill="#0a0a0a"/>
<circle cx="414.0" cy="101.5" r="4.25" fill="#0a0a0a"/>
<circle cx="418.8" cy="97.7" r="4.25" fill="#0a0a0a"/>
<circle cx="423.6" cy="99.5" r="4.25" fill="#0a0a0a"/>
<circle cx="428.4" cy="101.0" r="4.25" fill="#0a0a0a"/>
<circle cx="433.2" cy="100.8" r="4.25" fill="#0a0a0a"/>
<circle cx="438.0" cy="98.4" r="4.25" fill="#0a0a0a"/>
<circle cx="442.8" cy="101.0" r="4.25" fill="#0a0a0a"/>
<circle cx="447.6" cy="103.2" r="4.25" fill="#0a0a0a"/>
<circle cx="452.5" cy="105.0" r="4.25" fill="#0a0a0a"/>
<circle cx="457.3" cy="103.9" r="4.25" fill="#0a0a0a"/>
<circle cx="462.1" cy="102.7" r="4.25" fill="#0a0a0a"/>
<circle cx="466.9" cy="102.5" r="4.25" fill="#0a0a0a"/>
<circle cx="471.7" cy="102.8" r="4.25" fill="#0a0a0a"/>
<circle cx="476.5" cy="104.2" r="4.25" fill="#0a0a0a"/>
<circle cx="481.3" cy="105.0" r="4.25" fill="#0a0a0a"/>
<circle cx="486.1" cy="105.4" r="4.25" fill="#0a0a0a"/>
<circle cx="490.9" cy="107.4" r="4.25" fill="#0a0a0a"/>
<circle cx="495.7" cy="104.5" r="4.25" fill="#0a0a0a"/>
<circle cx="500.5" cy="104.2" r="4.25" fill="#0a0a0a"/>
<circle cx="505.3" cy="104.5" r="4.25" fill="#0a0a0a"/>
<circle cx="510.1" cy="106.7" r="4.25" fill="#0a0a0a"/>
<circle cx="514.9" cy="104.5" r="4.25" fill="#0a0a0a"/>
<circle cx="519.7" cy="106.7" r="4.25" fill="#0a0a0a"/>
<circle cx="524.5" cy="107.3" r="4.25" fill="#0a0a0a"/>
<circle cx="529.3" cy="106.1" r="4.25" fill="#0a0a0a"/>
<circle cx="534.1" cy="105.9" r="4.25" fill="#0a0a0a"/>
<circle cx="538.9" cy="106.2" r="4.25" fill="#0a0a0a"/>
<circle cx="543.7" cy="108.3" r="4.25" fill="#0a0a0a"/>
<circle cx="548.5" cy="108.6" r="4.25" fill="#0a0a0a"/>
<circle cx="553.4" cy="108.4" r="4.25" fill="#0a0a0a"/>
<circle cx="558.2" cy="106.9" r="4.25" fill="#0a0a0a"/>
<circle cx="563.0" cy="110.3" r="4.25" fill="#0a0a0a"/>
<circle cx="567.8" cy="110.7" r="4.25" fill="#0a0a0a"/>
<circle cx="572.6" cy="109.5" r="4.25" fill="#0a0a0a"/>
<circle cx="577.4" cy="109.1" r="4.25" fill="#0a0a0a"/>
<circle cx="582.2" cy="109.1" r="4.25" fill="#0a0a0a"/>
<circle cx="587.0" cy="109.3" r="4.25" fill="#0a0a0a"/>
<circle cx="591.8" cy="110.0" r="4.25" fill="#0a0a0a"/>
<circle cx="596.6" cy="110.5" r="4.25" fill="#0a0a0a"/>
<circle cx="361.2" cy="36.5" r="4.25" fill="#1616d6"/>
<circle cx="366.0" cy="39.9" r="4.25" fill="#1616d6"/>
<circle cx="370.8" cy="40.6" r="4.25" fill="#1616d6"/>
<circle cx="375.6" cy="44.0" r="4.25" fill="#1616d6"/>
<circle cx="380.4" cy="45.3" r="4.25" fill="#1616d6"/>
<circle cx="385.2" cy="45.0" r="4.25" fill="#1616d6"/>
<circle cx="390.0" cy="47.4" r="4.25" fill="#1616d6"/>
<circle cx="394.8" cy="49.1" r="4.25" fill="#1616d6"/>
<circle cx="399.6" cy="51.1" r="4.25" fill="#1616d6"/>
<circle cx="404.4" cy="50.1" r="4.25" fill="#1616d6"/>
<circle cx="409.2" cy="52.8" r="4.25" fill="#1616d6"/>
<circle cx="414.0" cy="53.8" r="4.25" fill="#1616d6"/>
<circle cx="418.8" cy="54.2" r="4.25" fill="#1616d6"/>
<circle cx="423.6" cy="54.2" r="4.25" fill="#1616d6"/>
<circle cx="428.4" cy="56.2" r="4.25" fill="#1616d6"/>
<circle cx="433.2" cy="56.9" r="4.25" fill="#1616d6"/>
<circle cx="438.0" cy="56.2" r="4.25" fill="#1616d6"/>
<circle cx="442.8" cy="56.9" r="4.25" fill="#1616d6"/>
<circle cx="447.6" cy="57.9" r="4.25" fill="#1616d6"/>
<circle cx="452.5" cy="57.2" r="4.25" fill="#1616d6"/>
<circle cx="457.3" cy="58.9" r="4.25" fill="#1616d6"/>
<circle cx="462.1" cy="59.3" r="4.25" fill="#1616d6"/>
<circle cx="466.9" cy="61.3" r="4.25" fill="#1616d6"/>
<circle cx="471.7" cy="58.6" r="4.25" fill="#1616d6"/>
<circle cx="476.5" cy="59.6" r="4.25" fill="#1616d6"/>
<circle cx="481.3" cy="60.3" r="4.25" fill="#1616d6"/>
<circle cx="486.1" cy="60.3" r="4.25" fill="#1616d6"/>
<circle cx="490.9" cy="57.2" r="4.25" fill="#1616d6"/>
<circle cx="495.7" cy="58.6" r="4.25" fill="#1616d6"/>
<circle cx="500.5" cy="59.6" r="4.25" fill="#1616d6"/>
<circle cx="505.3" cy="61.8" r="4.25" fill="#1616d6"/>
<circle cx="510.1" cy="64.9" r="4.25" fill="#1616d6"/>
<circle cx="514.9" cy="67.1" r="4.25" fill="#1616d6"/>
<circle cx="519.7" cy="68.8" r="4.25" fill="#1616d6"/>
<circle cx="524.5" cy="69.8" r="4.25" fill="#1616d6"/>
<circle cx="529.3" cy="70.9" r="4.25" fill="#1616d6"/>
<circle cx="534.1" cy="72.0" r="4.25" fill="#1616d6"/>
<circle cx="538.9" cy="73.1" r="4.25" fill="#1616d6"/>
<circle cx="543.7" cy="74.1" r="4.25" fill="#1616d6"/>
<circle cx="548.5" cy="75.2" r="4.25" fill="#1616d6"/>
<circle cx="553.4" cy="76.1" r="4.25" fill="#1616d6"/>
<circle cx="558.2" cy="77.1" r="4.25" fill="#1616d6"/>
<circle cx="563.0" cy="78.1" r="4.25" fill="#1616d6"/>
<circle cx="567.8" cy="79.2" r="4.25" fill="#1616d6"/>
<circle cx="572.6" cy="80.0" r="4.25" fill="#1616d6"/>
<circle cx="577.4" cy="80.9" r="4.25" fill="#1616d6"/>
<circle cx="582.2" cy="81.7" r="4.25" fill="#1616d6"/>
<circle cx="587.0" cy="82.4" r="4.25" fill="#1616d6"/>
<circle cx="591.8" cy="83.1" r="4.25" fill="#1616d6"/>
<circle cx="596.6" cy="83.8" r="4.25" fill="#1616d6"/>
<circle cx="497.0" cy="212.3" r="4.6" fill="#1616d6"/><circle cx="495.7" cy="210.9" r="1.3" fill="#dcdcff"/>
<circle cx="496.8" cy="234.2" r="4.6" fill="#0a0a0a"/><circle cx="495.5" cy="232.8" r="1.3" fill="#e8e8e8"/>
<text x="512.6" y="216.6" font-size="13.7">CMFs - Fe<tspan dy="3.5" font-size="8">3</tspan><tspan dy="-3.5">O</tspan><tspan dy="3.5" font-size="8">4</tspan></text>
<text x="512.6" y="238.7" font-size="13.5">CMFs</text>
</g>
<clipPath id="clipc"><rect x="140" y="335" width="314.4" height="290"/></clipPath>
<g id="pc" clip-path="url(#clipc)">
<path d="M204.0,343.0H450.2V578.5" fill="none" stroke="#333" stroke-width="1.9"/>
<path d="M204.0,342.3V578.5H450.9" fill="none" stroke="#0c0c0c" stroke-width="2.3"/>
<path d="M204.0,570.7h5.0M204.0,562.0h3.0M204.0,553.3h3.0M204.0,544.7h3.0M204.0,536.0h3.0M204.0,527.3h5.0M204.0,518.6h3.0M204.0,509.9h3.0M204.0,501.3h3.0M204.0,492.6h3.0M204.0,483.9h5.0M204.0,475.2h3.0M204.0,466.5h3.0M204.0,457.9h3.0M204.0,449.2h3.0M204.0,440.5h5.0M204.0,431.8h3.0M204.0,423.1h3.0M204.0,414.5h3.0M204.0,405.8h3.0M204.0,397.1h5.0M204.0,388.4h3.0M204.0,379.7h3.0M204.0,371.1h3.0M204.0,362.4h3.0M204.0,353.7h5.0M204.0,345.0h3.0M207.8,578.5v-4.8M217.3,578.5v-3.4M226.8,578.5v-3.4M236.3,578.5v-3.4M245.8,578.5v-3.4M255.4,578.5v-4.8M264.9,578.5v-3.4M274.4,578.5v-3.4M283.9,578.5v-3.4M293.4,578.5v-3.4M302.9,578.5v-4.8M312.4,578.5v-3.4M321.9,578.5v-3.4M331.4,578.5v-3.4M340.9,578.5v-3.4M350.5,578.5v-4.8M360.0,578.5v-3.4M369.5,578.5v-3.4M379.0,578.5v-3.4M388.5,578.5v-3.4M398.0,578.5v-4.8M407.5,578.5v-3.4M417.0,578.5v-3.4M426.5,578.5v-3.4M436.0,578.5v-3.4M445.6,578.5v-4.8" stroke="#111" stroke-width="1.25" fill="none"/>
<text x="201.6" y="577.1" text-anchor="end" font-size="13.8">0</text>
<text x="201.6" y="533.7" text-anchor="end" font-size="13.8">20</text>
<text x="201.6" y="490.3" text-anchor="end" font-size="13.8">40</text>
<text x="201.6" y="446.9" text-anchor="end" font-size="13.8">60</text>
<text x="201.6" y="403.5" text-anchor="end" font-size="13.8">80</text>
<text x="201.6" y="360.1" text-anchor="end" font-size="13.8">100</text>
<text x="209.2" y="592.8" text-anchor="middle" font-size="13.8">0</text>
<text x="256.1" y="592.8" text-anchor="middle" font-size="13.8">10</text>
<text x="303.0" y="592.8" text-anchor="middle" font-size="13.8">20</text>
<text x="351.1" y="592.8" text-anchor="middle" font-size="13.8">30</text>
<text x="398.0" y="592.8" text-anchor="middle" font-size="13.8">40</text>
<text x="445.6" y="592.8" text-anchor="middle" font-size="13.8">50</text>
<text x="322.8" y="617.5" text-anchor="middle" font-size="14.5">Cycle</text>
<text transform="translate(167.3,448.4) rotate(-90)" text-anchor="middle" font-size="14.8">Coulombic efficiency (%)</text>
<text x="438.7" y="357.9" text-anchor="middle" font-size="18.6" font-weight="bold">(c)</text>
<clipPath id="clipm"><rect x="190" y="340" width="260.6" height="240"/></clipPath><g clip-path="url(#clipm)">
<circle cx="212.6" cy="430.0" r="4.25" fill="#0a0a0a"/>
<circle cx="217.3" cy="413.5" r="4.25" fill="#0a0a0a"/>
<circle cx="222.0" cy="415.0" r="4.25" fill="#0a0a0a"/>
<circle cx="226.7" cy="414.1" r="4.25" fill="#0a0a0a"/>
<circle cx="231.5" cy="412.2" r="4.25" fill="#0a0a0a"/>
<circle cx="236.2" cy="412.2" r="4.25" fill="#0a0a0a"/>
<circle cx="240.9" cy="415.7" r="4.25" fill="#0a0a0a"/>
<circle cx="245.6" cy="416.7" r="4.25" fill="#0a0a0a"/>
<circle cx="250.3" cy="413.5" r="4.25" fill="#0a0a0a"/>
<circle cx="255.0" cy="411.7" r="4.25" fill="#0a0a0a"/>
<circle cx="259.8" cy="415.7" r="4.25" fill="#0a0a0a"/>
<circle cx="264.5" cy="415.0" r="4.25" fill="#0a0a0a"/>
<circle cx="269.2" cy="416.5" r="4.25" fill="#0a0a0a"/>
<circle cx="273.9" cy="414.6" r="4.25" fill="#0a0a0a"/>
<circle cx="278.6" cy="414.1" r="4.25" fill="#0a0a0a"/>
<circle cx="283.3" cy="417.6" r="4.25" fill="#0a0a0a"/>
<circle cx="288.1" cy="417.4" r="4.25" fill="#0a0a0a"/>
<circle cx="292.8" cy="416.5" r="4.25" fill="#0a0a0a"/>
<circle cx="297.5" cy="416.1" r="4.25" fill="#0a0a0a"/>
<circle cx="302.2" cy="415.0" r="4.25" fill="#0a0a0a"/>
<circle cx="306.9" cy="413.5" r="4.25" fill="#0a0a0a"/>
<circle cx="311.7" cy="412.2" r="4.25" fill="#0a0a0a"/>
<circle cx="316.4" cy="416.1" r="4.25" fill="#0a0a0a"/>
<circle cx="321.1" cy="417.0" r="4.25" fill="#0a0a0a"/>
<circle cx="325.8" cy="416.5" r="4.25" fill="#0a0a0a"/>
<circle cx="330.5" cy="413.5" r="4.25" fill="#0a0a0a"/>
<circle cx="335.2" cy="412.8" r="4.25" fill="#0a0a0a"/>
<circle cx="340.0" cy="411.5" r="4.25" fill="#0a0a0a"/>
<circle cx="344.7" cy="414.6" r="4.25" fill="#0a0a0a"/>
<circle cx="349.4" cy="411.7" r="4.25" fill="#0a0a0a"/>
<circle cx="354.1" cy="412.4" r="4.25" fill="#0a0a0a"/>
<circle cx="358.8" cy="413.7" r="4.25" fill="#0a0a0a"/>
<circle cx="363.6" cy="416.5" r="4.25" fill="#0a0a0a"/>
<circle cx="368.3" cy="412.4" r="4.25" fill="#0a0a0a"/>
<circle cx="373.0" cy="414.1" r="4.25" fill="#0a0a0a"/>
<circle cx="377.7" cy="413.5" r="4.25" fill="#0a0a0a"/>
<circle cx="382.4" cy="416.7" r="4.25" fill="#0a0a0a"/>
<circle cx="387.1" cy="415.4" r="4.25" fill="#0a0a0a"/>
<circle cx="391.9" cy="414.8" r="4.25" fill="#0a0a0a"/>
<circle cx="396.6" cy="413.5" r="4.25" fill="#0a0a0a"/>
<circle cx="401.3" cy="415.4" r="4.25" fill="#0a0a0a"/>
<circle cx="406.0" cy="415.4" r="4.25" fill="#0a0a0a"/>
<circle cx="410.7" cy="415.2" r="4.25" fill="#0a0a0a"/>
<circle cx="415.5" cy="413.5" r="4.25" fill="#0a0a0a"/>
<circle cx="420.2" cy="414.4" r="4.25" fill="#0a0a0a"/>
<circle cx="424.9" cy="417.0" r="4.25" fill="#0a0a0a"/>
<circle cx="429.6" cy="411.5" r="4.25" fill="#0a0a0a"/>
<circle cx="434.3" cy="410.7" r="4.25" fill="#0a0a0a"/>
<circle cx="439.0" cy="412.2" r="4.25" fill="#0a0a0a"/>
<circle cx="443.8" cy="414.1" r="4.25" fill="#0a0a0a"/>
<circle cx="448.5" cy="414.4" r="4.25" fill="#0a0a0a"/>
<circle cx="217.3" cy="368.2" r="4.25" fill="#1616d6"/>
<circle cx="222.0" cy="369.1" r="4.25" fill="#1616d6"/>
<circle cx="226.7" cy="370.2" r="4.25" fill="#1616d6"/>
<circle cx="231.5" cy="370.8" r="4.25" fill="#1616d6"/>
<circle cx="236.2" cy="370.4" r="4.25" fill="#1616d6"/>
<circle cx="240.9" cy="370.5" r="4.25" fill="#1616d6"/>
<circle cx="245.6" cy="370.6" r="4.25" fill="#1616d6"/>
<circle cx="250.3" cy="370.7" r="4.25" fill="#1616d6"/>
<circle cx="255.0" cy="370.8" r="4.25" fill="#1616d6"/>
<circle cx="259.8" cy="370.9" r="4.25" fill="#1616d6"/>
<circle cx="264.5" cy="370.9" r="4.25" fill="#1616d6"/>
<circle cx="269.2" cy="371.0" r="4.25" fill="#1616d6"/>
<circle cx="273.9" cy="371.0" r="4.25" fill="#1616d6"/>
<circle cx="278.6" cy="371.1" r="4.25" fill="#1616d6"/>
<circle cx="283.3" cy="371.1" r="4.25" fill="#1616d6"/>
<circle cx="288.1" cy="371.1" r="4.25" fill="#1616d6"/>
<circle cx="292.8" cy="371.2" r="4.25" fill="#1616d6"/>
<circle cx="297.5" cy="371.2" r="4.25" fill="#1616d6"/>
<circle cx="302.2" cy="371.3" r="4.25" fill="#1616d6"/>
<circle cx="306.9" cy="371.2" r="4.25" fill="#1616d6"/>
<circle cx="311.7" cy="371.1" r="4.25" fill="#1616d6"/>
<circle cx="316.4" cy="372.4" r="4.25" fill="#1616d6"/>
<circle cx="321.1" cy="370.6" r="4.25" fill="#1616d6"/>
<circle cx="325.8" cy="371.9" r="4.25" fill="#1616d6"/>
<circle cx="330.5" cy="377.6" r="4.25" fill="#1616d6"/>
<circle cx="335.2" cy="377.4" r="4.25" fill="#1616d6"/>
<circle cx="340.0" cy="374.5" r="4.25" fill="#1616d6"/>
<circle cx="344.7" cy="373.0" r="4.25" fill="#1616d6"/>
<circle cx="349.4" cy="372.1" r="4.25" fill="#1616d6"/>
<circle cx="354.1" cy="371.5" r="4.25" fill="#1616d6"/>
<circle cx="358.8" cy="371.4" r="4.25" fill="#1616d6"/>
<circle cx="363.6" cy="371.3" r="4.25" fill="#1616d6"/>
<circle cx="368.3" cy="369.8" r="4.25" fill="#1616d6"/>
<circle cx="373.0" cy="369.6" r="4.25" fill="#1616d6"/>
<circle cx="377.7" cy="369.5" r="4.25" fill="#1616d6"/>
<circle cx="382.4" cy="369.6" r="4.25" fill="#1616d6"/>
<circle cx="387.1" cy="369.6" r="4.25" fill="#1616d6"/>
<circle cx="391.9" cy="369.7" r="4.25" fill="#1616d6"/>
<circle cx="396.6" cy="369.8" r="4.25" fill="#1616d6"/>
<circle cx="401.3" cy="369.8" r="4.25" fill="#1616d6"/>
<circle cx="406.0" cy="369.8" r="4.25" fill="#1616d6"/>
<circle cx="410.7" cy="369.9" r="4.25" fill="#1616d6"/>
<circle cx="415.5" cy="369.9" r="4.25" fill="#1616d6"/>
<circle cx="420.2" cy="370.0" r="4.25" fill="#1616d6"/>
<circle cx="424.9" cy="370.1" r="4.25" fill="#1616d6"/>
<circle cx="429.6" cy="370.1" r="4.25" fill="#1616d6"/>
<circle cx="434.3" cy="370.2" r="4.25" fill="#1616d6"/>
<circle cx="439.0" cy="370.3" r="4.25" fill="#1616d6"/>
<circle cx="443.8" cy="370.4" r="4.25" fill="#1616d6"/>
<circle cx="448.5" cy="370.4" r="4.25" fill="#1616d6"/>
</g>
<path d="M450.2,343.0V578.5" fill="none" stroke="#333" stroke-width="1.9"/>
<circle cx="343.0" cy="540.8" r="4.6" fill="#1616d6"/><circle cx="341.7" cy="539.4" r="1.3" fill="#dcdcff"/>
<circle cx="343.0" cy="564.3" r="4.6" fill="#0a0a0a"/><circle cx="341.7" cy="562.9" r="1.3" fill="#e8e8e8"/>
<text x="360.6" y="545.6" font-size="14.9">CMFs - Fe<tspan dy="3.8" font-size="8.8">3</tspan><tspan dy="-3.8">O</tspan><tspan dy="3.8" font-size="8.8">4</tspan></text>
<text x="360.6" y="569.2" font-size="14.9">CMFs</text>
</g>
<rect x="-30" y="609.5" width="222" height="60" rx="30" fill="none" stroke="#f6f6f6" stroke-width="5"/>
</g>
<g filter="url(#soft2)">
<circle cx="360.6" cy="88.6" r="1.15" fill="#e8e8e8"/>
<circle cx="365.5" cy="91.0" r="1.15" fill="#e8e8e8"/>
<circle cx="370.3" cy="93.4" r="1.15" fill="#e8e8e8"/>
<circle cx="375.1" cy="94.5" r="1.15" fill="#e8e8e8"/>
<circle cx="379.9" cy="94.4" r="1.15" fill="#e8e8e8"/>
<circle cx="384.7" cy="95.2" r="1.15" fill="#e8e8e8"/>
<circle cx="389.5" cy="95.7" r="1.15" fill="#e8e8e8"/>
<circle cx="394.3" cy="95.6" r="1.15" fill="#e8e8e8"/>
<circle cx="399.1" cy="98.8" r="1.15" fill="#e8e8e8"/>
<circle cx="403.9" cy="99.0" r="1.15" fill="#e8e8e8"/>
<circle cx="408.7" cy="98.1" r="1.15" fill="#e8e8e8"/>
<circle cx="413.5" cy="100.8" r="1.15" fill="#e8e8e8"/>
<circle cx="418.3" cy="97.1" r="1.15" fill="#e8e8e8"/>
<circle cx="423.1" cy="98.9" r="1.15" fill="#e8e8e8"/>
<circle cx="427.9" cy="100.3" r="1.15" fill="#e8e8e8"/>
<circle cx="432.7" cy="100.2" r="1.15" fill="#e8e8e8"/>
<circle cx="437.5" cy="97.8" r="1.15" fill="#e8e8e8"/>
<circle cx="442.3" cy="100.4" r="1.15" fill="#e8e8e8"/>
<circle cx="447.1" cy="102.5" r="1.15" fill="#e8e8e8"/>
<circle cx="451.9" cy="104.4" r="1.15" fill="#e8e8e8"/>
<circle cx="456.7" cy="103.2" r="1.15" fill="#e8e8e8"/>
<circle cx="461.6" cy="102.0" r="1.15" fill="#e8e8e8"/>
<circle cx="466.4" cy="101.9" r="1.15" fill="#e8e8e8"/>
<circle cx="471.2" cy="102.2" r="1.15" fill="#e8e8e8"/>
<circle cx="476.0" cy="103.6" r="1.15" fill="#e8e8e8"/>
<circle cx="480.8" cy="104.4" r="1.15" fill="#e8e8e8"/>
<circle cx="485.6" cy="104.7" r="1.15" fill="#e8e8e8"/>
<circle cx="490.4" cy="106.8" r="1.15" fill="#e8e8e8"/>
<circle cx="495.2" cy="103.9" r="1.15" fill="#e8e8e8"/>
<circle cx="500.0" cy="103.6" r="1.15" fill="#e8e8e8"/>
<circle cx="504.8" cy="103.9" r="1.15" fill="#e8e8e8"/>
<circle cx="509.6" cy="106.1" r="1.15" fill="#e8e8e8"/>
<circle cx="514.4" cy="103.9" r="1.15" fill="#e8e8e8"/>
<circle cx="519.2" cy="106.1" r="1.15" fill="#e8e8e8"/>
<circle cx="524.0" cy="106.6" r="1.15" fill="#e8e8e8"/>
<circle cx="528.8" cy="105.4" r="1.15" fill="#e8e8e8"/>
<circle cx="533.6" cy="105.3" r="1.15" fill="#e8e8e8"/>
<circle cx="538.4" cy="105.6" r="1.15" fill="#e8e8e8"/>
<circle cx="543.2" cy="107.6" r="1.15" fill="#e8e8e8"/>
<circle cx="548.0" cy="108.0" r="1.15" fill="#e8e8e8"/>
<circle cx="552.8" cy="107.8" r="1.15" fill="#e8e8e8"/>
<circle cx="557.7" cy="106.3" r="1.15" fill="#e8e8e8"/>
<circle cx="562.5" cy="109.7" r="1.15" fill="#e8e8e8"/>
<circle cx="567.3" cy="110.0" r="1.15" fill="#e8e8e8"/>
<circle cx="572.1" cy="108.8" r="1.15" fill="#e8e8e8"/>
<circle cx="576.9" cy="108.5" r="1.15" fill="#e8e8e8"/>
<circle cx="581.7" cy="108.5" r="1.15" fill="#e8e8e8"/>
<circle cx="586.5" cy="108.7" r="1.15" fill="#e8e8e8"/>
<circle cx="591.3" cy="109.3" r="1.15" fill="#e8e8e8"/>
<circle cx="596.1" cy="109.9" r="1.15" fill="#e8e8e8"/>
<circle cx="360.6" cy="35.9" r="1.15" fill="#dcdcff"/>
<circle cx="365.5" cy="39.3" r="1.15" fill="#dcdcff"/>
<circle cx="370.3" cy="39.9" r="1.15" fill="#dcdcff"/>
<circle cx="375.1" cy="43.3" r="1.15" fill="#dcdcff"/>
<circle cx="379.9" cy="44.7" r="1.15" fill="#dcdcff"/>
<circle cx="384.7" cy="44.4" r="1.15" fill="#dcdcff"/>
<circle cx="389.5" cy="46.7" r="1.15" fill="#dcdcff"/>
<circle cx="394.3" cy="48.4" r="1.15" fill="#dcdcff"/>
<circle cx="399.1" cy="50.5" r="1.15" fill="#dcdcff"/>
<circle cx="403.9" cy="49.5" r="1.15" fill="#dcdcff"/>
<circle cx="408.7" cy="52.2" r="1.15" fill="#dcdcff"/>
<circle cx="413.5" cy="53.2" r="1.15" fill="#dcdcff"/>
<circle cx="418.3" cy="53.5" r="1.15" fill="#dcdcff"/>
<circle cx="423.1" cy="53.5" r="1.15" fill="#dcdcff"/>
<circle cx="427.9" cy="55.6" r="1.15" fill="#dcdcff"/>
<circle cx="432.7" cy="56.3" r="1.15" fill="#dcdcff"/>
<circle cx="437.5" cy="55.6" r="1.15" fill="#dcdcff"/>
<circle cx="442.3" cy="56.3" r="1.15" fill="#dcdcff"/>
<circle cx="447.1" cy="57.3" r="1.15" fill="#dcdcff"/>
<circle cx="451.9" cy="56.6" r="1.15" fill="#dcdcff"/>
<circle cx="456.7" cy="58.3" r="1.15" fill="#dcdcff"/>
<circle cx="461.6" cy="58.7" r="1.15" fill="#dcdcff"/>
<circle cx="466.4" cy="60.7" r="1.15" fill="#dcdcff"/>
<circle cx="471.2" cy="58.0" r="1.15" fill="#dcdcff"/>
<circle cx="476.0" cy="59.0" r="1.15" fill="#dcdcff"/>
<circle cx="480.8" cy="59.7" r="1.15" fill="#dcdcff"/>
<circle cx="485.6" cy="59.7" r="1.15" fill="#dcdcff"/>
<circle cx="490.4" cy="56.6" r="1.15" fill="#dcdcff"/>
<circle cx="495.2" cy="58.0" r="1.15" fill="#dcdcff"/>
<circle cx="500.0" cy="59.0" r="1.15" fill="#dcdcff"/>
<circle cx="504.8" cy="61.2" r="1.15" fill="#dcdcff"/>
<circle cx="509.6" cy="64.3" r="1.15" fill="#dcdcff"/>
<circle cx="514.4" cy="66.5" r="1.15" fill="#dcdcff"/>
<circle cx="519.2" cy="68.2" r="1.15" fill="#dcdcff"/>
<circle cx="524.0" cy="69.2" r="1.15" fill="#dcdcff"/>
<circle cx="528.8" cy="70.2" r="1.15" fill="#dcdcff"/>
<circle cx="533.6" cy="71.3" r="1.15" fill="#dcdcff"/>
<circle cx="538.4" cy="72.4" r="1.15" fill="#dcdcff"/>
<circle cx="543.2" cy="73.5" r="1.15" fill="#dcdcff"/>
<circle cx="548.0" cy="74.5" r="1.15" fill="#dcdcff"/>
<circle cx="552.8" cy="75.5" r="1.15" fill="#dcdcff"/>
<circle cx="557.7" cy="76.4" r="1.15" fill="#dcdcff"/>
<circle cx="562.5" cy="77.5" r="1.15" fill="#dcdcff"/>
<circle cx="567.3" cy="78.6" r="1.15" fill="#dcdcff"/>
<circle cx="572.1" cy="79.4" r="1.15" fill="#dcdcff"/>
<circle cx="576.9" cy="80.3" r="1.15" fill="#dcdcff"/>
<circle cx="581.7" cy="81.0" r="1.15" fill="#dcdcff"/>
<circle cx="586.5" cy="81.8" r="1.15" fill="#dcdcff"/>
<circle cx="591.3" cy="82.5" r="1.15" fill="#dcdcff"/>
<circle cx="596.1" cy="83.1" r="1.15" fill="#dcdcff"/>
<g clip-path="url(#clipm)">
<circle cx="212.1" cy="429.3" r="1.15" fill="#e8e8e8"/>
<circle cx="216.8" cy="412.8" r="1.15" fill="#e8e8e8"/>
<circle cx="221.5" cy="414.4" r="1.15" fill="#e8e8e8"/>
<circle cx="226.2" cy="413.5" r="1.15" fill="#e8e8e8"/>
<circle cx="230.9" cy="411.5" r="1.15" fill="#e8e8e8"/>
<circle cx="235.7" cy="411.5" r="1.15" fill="#e8e8e8"/>
<circle cx="240.4" cy="415.0" r="1.15" fill="#e8e8e8"/>
<circle cx="245.1" cy="416.1" r="1.15" fill="#e8e8e8"/>
<circle cx="249.8" cy="412.8" r="1.15" fill="#e8e8e8"/>
<circle cx="254.5" cy="411.1" r="1.15" fill="#e8e8e8"/>
<circle cx="259.2" cy="415.0" r="1.15" fill="#e8e8e8"/>
<circle cx="264.0" cy="414.4" r="1.15" fill="#e8e8e8"/>
<circle cx="268.7" cy="415.9" r="1.15" fill="#e8e8e8"/>
<circle cx="273.4" cy="413.9" r="1.15" fill="#e8e8e8"/>
<circle cx="278.1" cy="413.5" r="1.15" fill="#e8e8e8"/>
<circle cx="282.8" cy="417.0" r="1.15" fill="#e8e8e8"/>
<circle cx="287.6" cy="416.8" r="1.15" fill="#e8e8e8"/>
<circle cx="292.3" cy="415.9" r="1.15" fill="#e8e8e8"/>
<circle cx="297.0" cy="415.5" r="1.15" fill="#e8e8e8"/>
<circle cx="301.7" cy="414.4" r="1.15" fill="#e8e8e8"/>
<circle cx="306.4" cy="412.8" r="1.15" fill="#e8e8e8"/>
<circle cx="311.1" cy="411.5" r="1.15" fill="#e8e8e8"/>
<circle cx="315.9" cy="415.5" r="1.15" fill="#e8e8e8"/>
<circle cx="320.6" cy="416.3" r="1.15" fill="#e8e8e8"/>
<circle cx="325.3" cy="415.9" r="1.15" fill="#e8e8e8"/>
<circle cx="330.0" cy="412.8" r="1.15" fill="#e8e8e8"/>
<circle cx="334.7" cy="412.2" r="1.15" fill="#e8e8e8"/>
<circle cx="339.5" cy="410.9" r="1.15" fill="#e8e8e8"/>
<circle cx="344.2" cy="413.9" r="1.15" fill="#e8e8e8"/>
<circle cx="348.9" cy="411.1" r="1.15" fill="#e8e8e8"/>
<circle cx="353.6" cy="411.8" r="1.15" fill="#e8e8e8"/>
<circle cx="358.3" cy="413.1" r="1.15" fill="#e8e8e8"/>
<circle cx="363.0" cy="415.9" r="1.15" fill="#e8e8e8"/>
<circle cx="367.8" cy="411.8" r="1.15" fill="#e8e8e8"/>
<circle cx="372.5" cy="413.5" r="1.15" fill="#e8e8e8"/>
<circle cx="377.2" cy="412.8" r="1.15" fill="#e8e8e8"/>
<circle cx="381.9" cy="416.1" r="1.15" fill="#e8e8e8"/>
<circle cx="386.6" cy="414.8" r="1.15" fill="#e8e8e8"/>
<circle cx="391.4" cy="414.1" r="1.15" fill="#e8e8e8"/>
<circle cx="396.1" cy="412.8" r="1.15" fill="#e8e8e8"/>
<circle cx="400.8" cy="414.8" r="1.15" fill="#e8e8e8"/>
<circle cx="405.5" cy="414.8" r="1.15" fill="#e8e8e8"/>
<circle cx="410.2" cy="414.6" r="1.15" fill="#e8e8e8"/>
<circle cx="414.9" cy="412.8" r="1.15" fill="#e8e8e8"/>
<circle cx="419.7" cy="413.7" r="1.15" fill="#e8e8e8"/>
<circle cx="424.4" cy="416.3" r="1.15" fill="#e8e8e8"/>
<circle cx="429.1" cy="410.9" r="1.15" fill="#e8e8e8"/>
<circle cx="433.8" cy="410.0" r="1.15" fill="#e8e8e8"/>
<circle cx="438.5" cy="411.5" r="1.15" fill="#e8e8e8"/>
<circle cx="443.2" cy="413.5" r="1.15" fill="#e8e8e8"/>
<circle cx="448.0" cy="413.7" r="1.15" fill="#e8e8e8"/>
</g>
<g clip-path="url(#clipm)">
<circle cx="216.8" cy="367.6" r="1.15" fill="#dcdcff"/>
<circle cx="221.5" cy="368.5" r="1.15" fill="#dcdcff"/>
<circle cx="226.2" cy="369.6" r="1.15" fill="#dcdcff"/>
<circle cx="230.9" cy="370.2" r="1.15" fill="#dcdcff"/>
<circle cx="235.7" cy="369.8" r="1.15" fill="#dcdcff"/>
<circle cx="240.4" cy="369.9" r="1.15" fill="#dcdcff"/>
<circle cx="245.1" cy="370.0" r="1.15" fill="#dcdcff"/>
<circle cx="249.8" cy="370.1" r="1.15" fill="#dcdcff"/>
<circle cx="254.5" cy="370.2" r="1.15" fill="#dcdcff"/>
<circle cx="259.2" cy="370.2" r="1.15" fill="#dcdcff"/>
<circle cx="264.0" cy="370.3" r="1.15" fill="#dcdcff"/>
<circle cx="268.7" cy="370.3" r="1.15" fill="#dcdcff"/>
<circle cx="273.4" cy="370.4" r="1.15" fill="#dcdcff"/>
<circle cx="278.1" cy="370.4" r="1.15" fill="#dcdcff"/>
<circle cx="282.8" cy="370.5" r="1.15" fill="#dcdcff"/>
<circle cx="287.6" cy="370.5" r="1.15" fill="#dcdcff"/>
<circle cx="292.3" cy="370.6" r="1.15" fill="#dcdcff"/>
<circle cx="297.0" cy="370.6" r="1.15" fill="#dcdcff"/>
<circle cx="301.7" cy="370.6" r="1.15" fill="#dcdcff"/>
<circle cx="306.4" cy="370.5" r="1.15" fill="#dcdcff"/>
<circle cx="311.1" cy="370.4" r="1.15" fill="#dcdcff"/>
<circle cx="315.9" cy="371.7" r="1.15" fill="#dcdcff"/>
<circle cx="320.6" cy="370.0" r="1.15" fill="#dcdcff"/>
<circle cx="325.3" cy="371.3" r="1.15" fill="#dcdcff"/>
<circle cx="330.0" cy="376.9" r="1.15" fill="#dcdcff"/>
<circle cx="334.7" cy="376.7" r="1.15" fill="#dcdcff"/>
<circle cx="339.5" cy="373.9" r="1.15" fill="#dcdcff"/>
<circle cx="344.2" cy="372.4" r="1.15" fill="#dcdcff"/>
<circle cx="348.9" cy="371.5" r="1.15" fill="#dcdcff"/>
<circle cx="353.6" cy="370.9" r="1.15" fill="#dcdcff"/>
<circle cx="358.3" cy="370.7" r="1.15" fill="#dcdcff"/>
<circle cx="363.0" cy="370.6" r="1.15" fill="#dcdcff"/>
<circle cx="367.8" cy="369.1" r="1.15" fill="#dcdcff"/>
<circle cx="372.5" cy="369.0" r="1.15" fill="#dcdcff"/>
<circle cx="377.2" cy="368.9" r="1.15" fill="#dcdcff"/>
<circle cx="381.9" cy="369.0" r="1.15" fill="#dcdcff"/>
<circle cx="386.6" cy="369.0" r="1.15" fill="#dcdcff"/>
<circle cx="391.4" cy="369.1" r="1.15" fill="#dcdcff"/>
<circle cx="396.1" cy="369.1" r="1.15" fill="#dcdcff"/>
<circle cx="400.8" cy="369.2" r="1.15" fill="#dcdcff"/>
<circle cx="405.5" cy="369.2" r="1.15" fill="#dcdcff"/>
<circle cx="410.2" cy="369.3" r="1.15" fill="#dcdcff"/>
<circle cx="414.9" cy="369.3" r="1.15" fill="#dcdcff"/>
<circle cx="419.7" cy="369.3" r="1.15" fill="#dcdcff"/>
<circle cx="424.4" cy="369.4" r="1.15" fill="#dcdcff"/>
<circle cx="429.1" cy="369.5" r="1.15" fill="#dcdcff"/>
<circle cx="433.8" cy="369.6" r="1.15" fill="#dcdcff"/>
<circle cx="438.5" cy="369.7" r="1.15" fill="#dcdcff"/>
<circle cx="443.2" cy="369.8" r="1.15" fill="#dcdcff"/>
<circle cx="448.0" cy="369.8" r="1.15" fill="#dcdcff"/>
</g>
<text class="bl" x="283.2" y="330" text-anchor="middle" font-family="'Liberation Sans', sans-serif" font-weight="bold" font-size="20.3" fill="#1e93c8">(a)</text>
<text class="bl" x="586" y="330" text-anchor="middle" font-family="'Liberation Sans', sans-serif" font-weight="bold" font-size="20.3" fill="#1e93c8">(b)</text>
</g>
</svg>
</body></html>
